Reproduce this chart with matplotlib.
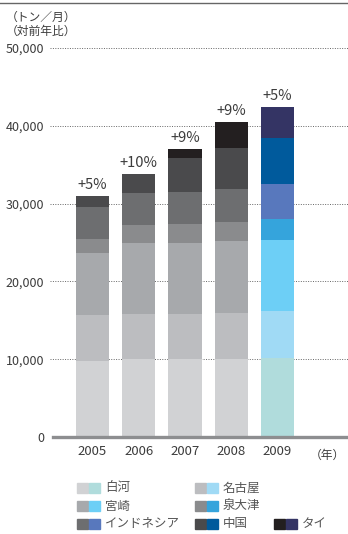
import matplotlib.pyplot as plt
from matplotlib.patches import Rectangle
from matplotlib.lines import Line2D

plt.rcParams['font.family'] = ['Noto Sans CJK JP', 'DejaVu Sans']

years = ['2005', '2006', '2007', '2008', '2009']
growth = ['+5%', '+10%', '+9%', '+9%', '+5%']

# monthly output (t) per plant, stacked bottom to top
plants = ['白河', '名古屋', '宮崎', '泉大津', 'インドネシア', '中国', 'タイ']
shirakawa = [9800, 10000, 10000, 10000, 10130]
nagoya = [5850, 5770, 5770, 5900, 6020]
miyazaki = [8050, 9230, 9230, 9230, 9230]
izumiotsu = [1800, 2310, 2440, 2560, 2690]
indonesia = [4000, 4100, 4100, 4230, 4490]
china = [1500, 2440, 4360, 5260, 5900]
thai = [0, 0, 1150, 3330, 3970]
series = [shirakawa, nagoya, miyazaki, izumiotsu, indonesia, china, thai]

gray_cols = ['#d1d2d4', '#bcbdc0', '#a7a9ac', '#8a8b8d', '#6d6e70', '#4a4a4c', '#231f20']
blue_cols = ['#b0dcdc', '#a0daf5', '#6dcff6', '#35a4dc', '#5878bd', '#005a9c', '#343464']

W, H = 348, 534
fig = plt.figure(figsize=(W / 100, H / 100), dpi=100)
ax = fig.add_axes([50 / W, (H - 437) / H, (W - 50) / W, (437 - 48) / H])

x = list(range(len(years)))
bottom = [0] * len(years)
for k, vals in enumerate(series):
    cols = [gray_cols[k]] * 4 + [blue_cols[k]]
    ax.bar(x, vals, width=0.715, bottom=bottom, color=cols, zorder=3)
    bottom = [b + v for b, v in zip(bottom, vals)]

for xi, tot, g in zip(x, bottom, growth):
    ax.text(xi, tot + 500, g, ha='center', va='bottom', fontsize=10.5,
            color='#3c3c3c')

ax.set_xlim(-0.919, 5.524)
ax.set_ylim(0, 50000)
yt = [0, 10000, 20000, 30000, 40000, 50000]
ax.set_yticks(yt)
ax.set_yticklabels([f'{v:,}' for v in yt], fontsize=9, color='#3c3c3c')
ax.set_xticks(x)
ax.set_xticklabels(years, fontsize=9.5, color='#3c3c3c')
ax.tick_params(axis='both', length=0)
ax.tick_params(axis='y', pad=4)
ax.tick_params(axis='x', pad=6)
for v in yt[1:]:
    ax.axhline(v, color='#666666', linestyle=(0, (1, 1.5)), linewidth=0.7, zorder=1)
for s in ax.spines.values():
    s.set_visible(False)
ax.axhline(0, xmin=3 / 298, xmax=1, color='#8d8e90', linewidth=2.4, zorder=4,
           clip_on=False)

# header rule and unit labels
fig.add_artist(Line2D([0, 1], [1 - 3 / H, 1 - 3 / H], color='#666666', linewidth=1))
fig.text(6 / W, 1 - 17 / H, '（トン／月）', fontsize=8.5, color='#3c3c3c', va='center')
fig.text(6 / W, 1 - 31 / H, '（対前年比）', fontsize=8.5, color='#3c3c3c', va='center')
fig.text(345 / W, 1 - 455 / H, '（年）', fontsize=8.5, color='#3c3c3c', va='center', ha='right')

# legend: gray swatch for 2005-2008, colour swatch for 2009
slots = [(77, 488), (195, 488), (77, 506), (195, 506), (77, 524), (195, 524), (274, 524)]
for k, (px, py) in enumerate(slots):
    fig.add_artist(Rectangle((px / W, 1 - (py + 5) / H), 11 / W, 10 / H,
                             color=gray_cols[k], transform=fig.transFigure))
    fig.add_artist(Rectangle(((px + 12) / W, 1 - (py + 5) / H), 11 / W, 10 / H,
                             color=blue_cols[k], transform=fig.transFigure))
    fig.text((px + 28) / W, 1 - py / H, plants[k], fontsize=9, color='#555555',
             va='center')

fig.savefig('out.png', dpi=100)
